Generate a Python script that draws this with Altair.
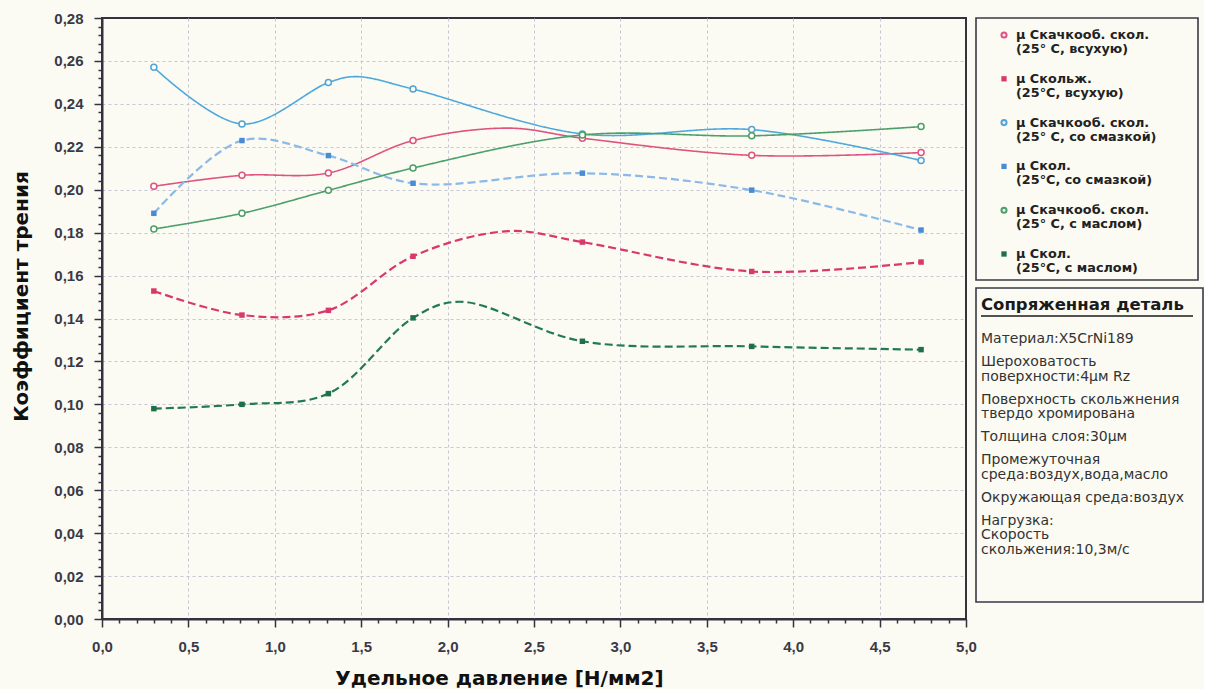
import altair as alt
import pandas as pd

# ---------------- data ----------------
x_vals = [0.3, 0.81, 1.31, 1.8, 2.78, 3.76, 4.74]

static_dry = [0.2016, 0.2067, 0.2078, 0.2229, 0.2240, 0.2160, 0.2173]
slide_dry = [0.1528, 0.1416, 0.1438, 0.1690, 0.1756, 0.1619, 0.1663]
static_lub = [0.2570, 0.2306, 0.2499, 0.2469, 0.2260, 0.2280, 0.2136]
slide_lub = [0.1890, 0.2229, 0.2159, 0.2030, 0.2077, 0.1998, 0.1812]
static_oil = [0.1817, 0.1890, 0.1997, 0.2101, 0.2255, 0.2251, 0.2294]
slide_oil = [0.0980, 0.1000, 0.1050, 0.1403, 0.1294, 0.1270, 0.1255]

# crests of the drawn smooth curves (no marker there)
crest_keys = ["s1", "s2", "s3", "s6"]
crest_x = [2.35, 2.35, 1.47, 2.07]
crest_y = [0.2287, 0.1807, 0.2527, 0.1478]

series_keys = ["s1", "s2", "s3", "s4", "s5", "s6"]
series_values = [static_dry, slide_dry, static_lub, slide_lub, static_oil, slide_oil]
series_style = ["solid", "dashed", "solid", "dashed", "solid", "dashed"]

legend_labels = [
    "µ Скачкооб. скол.\n(25° С, всухую)",
    "µ Скольж.\n(25°С, всухую)",
    "µ Скачкооб. скол.\n(25° С, со смазкой)",
    "µ Скол.\n(25°С, со смазкой)",
    "µ Скачкооб. скол.\n(25° С, с маслом)",
    "µ Скол.\n(25°С, с маслом)",
]

details_heading = "Сопряженная деталь"
details_groups = [
    "Материал:X5CrNi189",
    "Шероховатость\nповерхности:4µм Rz",
    "Поверхность скольжнения\nтвердо хромирована",
    "Толщина слоя:30µм",
    "Промежуточная\nсреда:воздух,вода,масло",
    "Окружающая среда:воздух",
    "Нагрузка:\nСкорость\nскольжения:10,3м/с",
]

x_title = "Удельное давление [Н/мм2]"
y_title = "Коэффициент трения"

# ---------------- styles ----------------
line_colors = ["#e0527f", "#d9386c", "#4fa8dc", "#8bb9e8", "#4c9f68", "#227a52"]
marker_colors = ["#e0527f", "#d9386c", "#4fa3d6", "#4a8bd6", "#4c9f68", "#1f7048"]
BG = "#fbfbf4"
FRAME = "#33333f"

rows = []
for k, vals, st in zip(series_keys, series_values, series_style):
    for xv, yv in zip(x_vals, vals):
        rows.append({"key": k, "x": xv, "y": yv, "style": st, "marker": True})
style_of = dict(zip(series_keys, series_style))
for k, xv, yv in zip(crest_keys, crest_x, crest_y):
    rows.append({"key": k, "x": xv, "y": yv, "style": style_of[k], "marker": False})
df = pd.DataFrame(rows).sort_values(["key", "x"]).reset_index(drop=True)

x_ticks = [round(i * 0.1, 1) for i in range(51)]
y_ticks = [round(i * 0.004, 3) for i in range(71)]
x_major = "abs(datum.value*2 - round(datum.value*2)) < 0.001"
y_major = "abs(datum.value*50 - round(datum.value*50)) < 0.001"

x_axis = alt.Axis(
    values=x_ticks,
    labelExpr=f"{x_major} ? replace(format(datum.value, '.1f'), '.', ',') : ''",
    tickSize={"condition": {"test": x_major, "value": 8}, "value": 4},
    gridOpacity={"condition": {"test": f"{x_major} && datum.value > 0.01 && datum.value < 4.99", "value": 1}, "value": 0},
    grid=True, gridColor="#c6c6d4", gridDash=[3, 3], gridWidth=1,
    domainColor=FRAME, domainWidth=2, tickColor=FRAME, tickWidth=1.5,
    labelFont="Liberation Sans", labelFontWeight="bold", labelFontSize=15,
    labelColor="#3a3a46", labelPadding=12, labelFlush=False, labelOverlap=False,
    title=x_title, titleFont="DejaVu Sans", titleFontSize=20, titleFontWeight="bold",
    titleColor="#111111", titlePadding=14, titleX=397,
)
y_axis = alt.Axis(
    values=y_ticks,
    labelExpr=f"{y_major} ? replace(format(datum.value, '.2f'), '.', ',') : ''",
    tickSize={"condition": {"test": y_major, "value": 8}, "value": 4},
    gridOpacity={"condition": {"test": f"{y_major} && datum.value > 0.001 && datum.value < 0.279", "value": 1}, "value": 0},
    grid=True, gridColor="#c6c6d4", gridDash=[3, 3], gridWidth=1,
    domainColor=FRAME, domainWidth=2, tickColor=FRAME, tickWidth=1.5,
    labelFont="Liberation Sans", labelFontWeight="bold", labelFontSize=15,
    labelColor="#3a3a46", labelPadding=11, labelFlush=False, labelOverlap=False,
    title=y_title, titleFont="DejaVu Sans", titleFontSize=20, titleFontWeight="bold",
    titleColor="#111111", titlePadding=22, titleY=278,
)

base = alt.Chart(df).encode(
    x=alt.X("x:Q", scale=alt.Scale(domain=[0, 5], nice=False, zero=False), axis=x_axis),
    y=alt.Y("y:Q", scale=alt.Scale(domain=[0, 0.28], nice=False), axis=y_axis),
)

lines = base.mark_line(interpolate="catmull-rom").encode(
    color=alt.Color("key:N", scale=alt.Scale(domain=series_keys, range=line_colors), legend=None),
    strokeDash=alt.StrokeDash("style:N", scale=alt.Scale(domain=["solid", "dashed"], range=[[1, 0], [8, 4]]), legend=None),
    strokeWidth=alt.StrokeWidth("style:N", scale=alt.Scale(domain=["solid", "dashed"], range=[1.6, 2.2]), legend=None),
    detail="key:N",
    order="x:Q",
)
circles = base.transform_filter((alt.datum.style == "solid") & alt.datum.marker).mark_point(
    shape="circle", filled=True, fill="#fffef8", size=36, strokeWidth=1.5, opacity=1
).encode(stroke=alt.Stroke("key:N", scale=alt.Scale(domain=series_keys, range=marker_colors), legend=None))
squares = base.transform_filter((alt.datum.style == "dashed") & alt.datum.marker).mark_point(
    shape="square", filled=True, size=30, strokeWidth=0, opacity=1
).encode(fill=alt.Fill("key:N", scale=alt.Scale(domain=series_keys, range=marker_colors), legend=None))

main = alt.layer(lines, circles, squares).properties(
    width=864, height=601,
    view=alt.ViewBackground(stroke=FRAME, strokeWidth=2, fill=BG),
)

# ---------------- legend panel ----------------
leg_df = pd.DataFrame({
    "idx": list(range(6)),
    "key": series_keys,
    "label": legend_labels,
    "style": series_style,
})
ly = alt.Y("idx:Q", scale=alt.Scale(domain=[0, 5], range=[17, 236]), axis=None)
leg_c = alt.Chart(leg_df).transform_filter(alt.datum.style == "solid").mark_point(
    shape="circle", filled=True, fill="#fbeef2", size=26, strokeWidth=2, opacity=1
).encode(x=alt.value(28), y=ly,
         stroke=alt.Stroke("key:N", scale=alt.Scale(domain=series_keys, range=marker_colors), legend=None))
leg_s = alt.Chart(leg_df).transform_filter(alt.datum.style == "dashed").mark_point(
    shape="square", filled=True, size=28, strokeWidth=0, opacity=1
).encode(x=alt.value(28), y=ly,
         fill=alt.Fill("key:N", scale=alt.Scale(domain=series_keys, range=marker_colors), legend=None))
leg_t = alt.Chart(leg_df).mark_text(
    align="left", baseline="middle", lineBreak="\n",
    font="DejaVu Sans", fontWeight="bold", fontSize=12.8, lineHeight=14, color="#222222",
).encode(x=alt.value(40), y=ly, text="label:N")
legend = alt.layer(leg_c, leg_s, leg_t).properties(
    width=222, height=262,
    view=alt.ViewBackground(stroke="#3a3a44", strokeWidth=1.6, fill=BG),
)

# ---------------- details panel ----------------
LH = 14.5
DH = 314
pos = []
cur = 51
for g in details_groups:
    n = g.count("\n") + 1
    pos.append(cur)
    cur += 23 + LH * (n - 1)
det_df = pd.DataFrame({"text": details_groups, "pos": pos})
dy_enc = alt.Y("pos:Q", scale=alt.Scale(domain=[0, DH], range=[0, DH]), axis=None)
det_t = alt.Chart(det_df).mark_text(
    align="left", baseline="middle", lineBreak="\n",
    font="DejaVu Sans", fontSize=14, lineHeight=LH, color="#333333",
).encode(x=alt.value(5), y=dy_enc, text="text:N")
head_df = pd.DataFrame({"text": [details_heading], "pos": [17]})
det_h = alt.Chart(head_df).mark_text(
    align="left", baseline="middle",
    font="DejaVu Sans", fontSize=16.5, fontWeight="bold", color="#1a1a1a",
).encode(x=alt.value(5), y=dy_enc, text="text:N")
det_u = alt.Chart(head_df).mark_rule(color="#1a1a1a", strokeWidth=1.5).encode(
    x=alt.value(5), x2=alt.value(217), y=alt.value(28)
)
details = alt.layer(det_h, det_u, det_t).properties(
    width=227, height=DH,
    view=alt.ViewBackground(stroke="#3a3a44", strokeWidth=1.6, fill=BG),
)

right = alt.vconcat(legend, details, spacing=6)

chart = alt.hconcat(main, right, spacing=10, bounds="flush").properties(
    padding={"left": 10, "top": 10, "right": 0, "bottom": 0},
    background=BG,
).configure_view(stroke=None)

chart.save("out.html", embed_options={"renderer": "svg", "actions": False})
